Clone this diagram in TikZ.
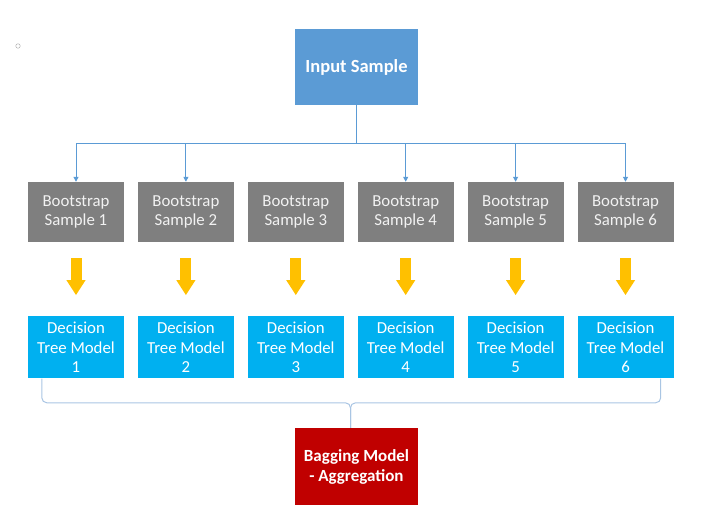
\documentclass[tikz,border=0pt]{standalone}
\usepackage{fontspec}
\setmainfont{Carlito}
\usetikzlibrary{arrows.meta, positioning, calc}
\definecolor{inblue}{HTML}{5B9BD5}
\definecolor{bootgrey}{HTML}{7F7F7F}
\definecolor{bootwhite}{HTML}{F2F2F2}
\definecolor{treeblue}{HTML}{00B0F0}
\definecolor{bagred}{HTML}{C00000}
\definecolor{amber}{HTML}{FFC000}
\definecolor{bracegrey}{HTML}{A9C5E3}

\begin{document}
\begin{tikzpicture}[
  box/.style={rectangle, inner sep=0pt, minimum width=96pt, minimum height=60pt, align=center, font=\fontsize{16.8}{19.5}\selectfont},
  sample/.style={box, fill=bootgrey, text=bootwhite},
  model/.style={box, fill=treeblue, text=white, minimum height=62pt},
  topbox/.style={box, minimum width=123pt, minimum height=76pt, text=white, font=\fontsize{18.5}{21}\selectfont\bfseries},
  link/.style={draw=inblue, line width=1pt},
  branch/.style={link, -{Triangle[width=5pt, length=5pt]}},
  fat/.style={draw=amber, line width=11pt, -{Triangle[width=18pt, length=15pt]}, shorten <=16pt, shorten >=21pt},
  gather/.style={draw=bracegrey, line width=1pt, rounded corners=5pt}
]
\useasboundingbox (0,0) rectangle (703pt,513pt);
\node[circle, draw=gray!60, inner sep=0pt, minimum size=4.5pt, line width=0.5pt] (dot) at (18pt, 467pt) {};
\node[topbox, fill=inblue] (input) at (356.5pt, 446pt) {Input Sample};
\node[sample] (boot1) at (76pt, 301pt) {Bootstrap\\Sample 1};
\node[sample, right=13.5pt of boot1] (boot2) {Bootstrap\\Sample 2};
\node[sample, right=13.5pt of boot2] (boot3) {Bootstrap\\Sample 3};
\node[sample, right=13.5pt of boot3] (boot4) {Bootstrap\\Sample 4};
\node[sample, right=13.5pt of boot4] (boot5) {Bootstrap\\Sample 5};
\node[sample, right=13.5pt of boot5] (boot6) {Bootstrap\\Sample 6};
\node[model, below=74pt of boot1] (tree1) {Decision\\Tree Model\\1};
\node[model, below=74pt of boot2] (tree2) {Decision\\Tree Model\\2};
\node[model, below=74pt of boot3] (tree3) {Decision\\Tree Model\\3};
\node[model, below=74pt of boot4] (tree4) {Decision\\Tree Model\\4};
\node[model, below=74pt of boot5] (tree5) {Decision\\Tree Model\\5};
\node[model, below=74pt of boot6] (tree6) {Decision\\Tree Model\\6};
\node[topbox, fill=bagred, minimum height=77pt, font=\fontsize{17}{20}\selectfont\bfseries] (bagging) at (356.5pt, 46.5pt) {Bagging Model\\- Aggregation};
% input to the samples
\coordinate[below=38pt of input] (split);
\draw[link] (input) -- (split);
\draw[branch] (split) -| (boot1);
\draw[branch] (split) -| (boot2);
\draw[branch] (split) -| (boot4);
\draw[branch] (split) -| (boot5);
\draw[branch] (split) -| (boot6);
% samples to trees
\draw[fat] (boot1) -- (tree1);
\draw[fat] (boot2) -- (tree2);
\draw[fat] (boot3) -- (tree3);
\draw[fat] (boot4) -- (tree4);
\draw[fat] (boot5) -- (tree5);
\draw[fat] (boot6) -- (tree6);
% brace into the aggregation
\coordinate (gatherL) at ($(tree1.south west)+(14pt,0)$);
\coordinate (gatherR) at ($(tree6.south east)+(-13pt,0)$);
\coordinate (gatherM) at ($(bagging.north)+(-6pt,25pt)$);
\coordinate (gatherT) at (gatherM |- bagging.north);
\draw[gather] (gatherL) |- (gatherM) -- (gatherT);
\draw[gather] (gatherR) |- (gatherM) -- (gatherT);
\end{tikzpicture}
\end{document}
